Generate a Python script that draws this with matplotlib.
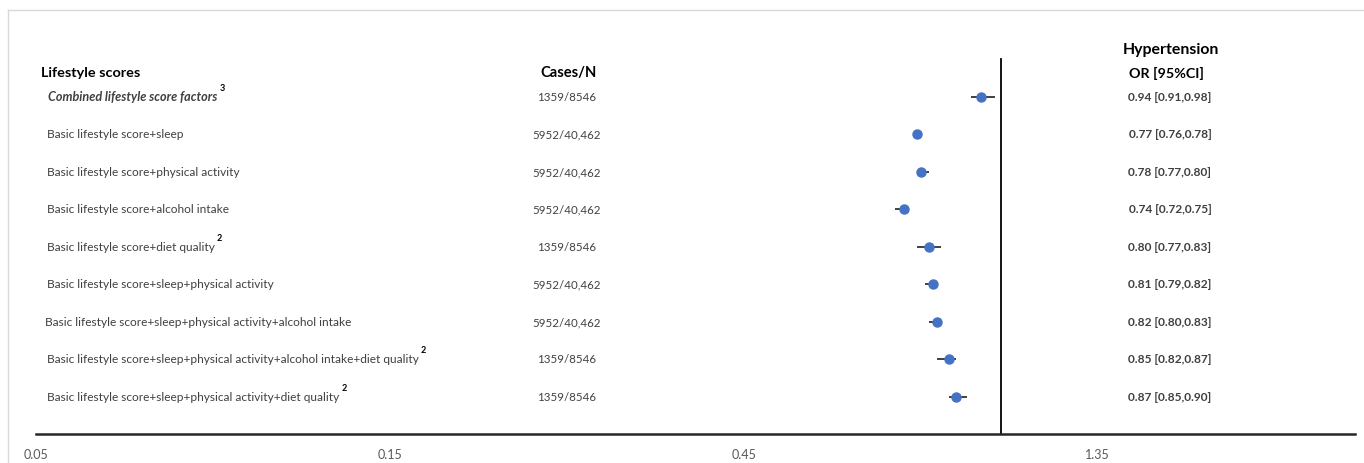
import numpy as np
import matplotlib.pyplot as plt
from matplotlib.lines import Line2D
from matplotlib.transforms import blended_transform_factory

# rows of the forest plot, top to bottom
labels = ['Combined lifestyle score factors',
          'Basic lifestyle score+sleep',
          'Basic lifestyle score+physical activity',
          'Basic lifestyle score+alcohol intake',
          'Basic lifestyle score+diet quality',
          'Basic lifestyle score+sleep+physical activity',
          'Basic lifestyle score+sleep+physical activity+alcohol intake',
          'Basic lifestyle score+sleep+physical activity+alcohol intake+diet quality',
          'Basic lifestyle score+sleep+physical activity+diet quality']
sups = ['3', '', '', '', '2', '', '', '2', '2']
cases = ['1359/8546', '5952/40,462', '5952/40,462', '5952/40,462', '1359/8546',
         '5952/40,462', '5952/40,462', '1359/8546', '1359/8546']
odds = [0.94, 0.77, 0.78, 0.74, 0.80, 0.81, 0.82, 0.85, 0.87]
lower = [0.91, 0.76, 0.77, 0.72, 0.77, 0.79, 0.80, 0.82, 0.85]
upper = [0.98, 0.78, 0.80, 0.75, 0.83, 0.82, 0.83, 0.87, 0.90]
xticks = [0.05, 0.15, 0.45, 1.35]

W, H = 1364, 464
font = ['Lato', 'DejaVu Sans']
txt = '#404040'

fig = plt.figure(figsize=(W / 100, H / 100), dpi=100)
ax = fig.add_axes([36 / W, (H - 435) / H, (1355 - 36) / W, 435 / H])

rows = np.arange(len(labels))
odds = np.array(odds)
err = [odds - np.array(lower), np.array(upper) - odds]
ax.errorbar(odds, rows, xerr=err, fmt='o', color='#4472C4', ms=6.5,
            ecolor='#404040', elinewidth=1.4, capsize=0, zorder=3)
ax.plot([1, 1], [-1, len(labels)], color='black', lw=1.3, zorder=2)

ax.set_xscale('log', base=3)
ax.set_xlim(0.05, 3.0)
ax.set_ylim(len(labels), -2.6)
ax.set_xticks(xticks)
ax.set_xticklabels([str(t) for t in xticks], family=font, fontsize=9, color='#595959')
ax.minorticks_off()
ax.tick_params(axis='x', length=0, pad=10)
ax.set_yticks([])
for s in ['top', 'right', 'left']:
    ax.spines[s].set_visible(False)
ax.spines['bottom'].set_linewidth(1.8)
ax.spines['bottom'].set_color('#262626')

tr = blended_transform_factory(fig.transFigure, ax.transData)

# column headers
ax.text(41 / W, -0.64, 'Lifestyle scores', transform=tr, family=font, fontsize=10.4,
        fontweight='bold', va='center', ha='left')
ax.text(569 / W, -0.64, 'Cases/N', transform=tr, family=font, fontsize=10.6,
        fontweight='bold', va='center', ha='center')
ax.text(1171 / W, -1.27, 'Hypertension', transform=tr, family=font, fontsize=11.4,
        fontweight='bold', va='center', ha='center')
ax.text(1166 / W, -0.64, 'OR [95%CI]', transform=tr, family=font, fontsize=10.3,
        fontweight='bold', va='center', ha='center')

fig.canvas.draw()
r = fig.canvas.get_renderer()
for i, lab in enumerate(labels):
    x0 = 47 / W if i else 48 / W
    if i == 6:
        x0 = 45 / W
    t = ax.text(x0, i, lab, transform=tr, family=font, color=txt, va='center', ha='left',
                fontsize=9.1 if i == 0 else 8.6,
                fontweight='bold' if i == 0 else 'normal',
                fontstyle='italic' if i == 0 else 'normal')
    if sups[i]:
        bb = t.get_window_extent(r)
        ax.text((bb.x1 + 2) / W, i - 0.24, sups[i], transform=tr, family=font, fontsize=6.5,
                color='black', fontweight='bold', va='center', ha='left')
    ax.text(567 / W, i, cases[i], transform=tr, family=font, fontsize=8.3, color=txt,
            va='center', ha='center')
    ax.text(1170 / W, i, '%.2f [%.2f,%.2f]' % (odds[i], lower[i], upper[i]), transform=tr,
            family=font, fontsize=8.6, color=txt, fontweight='bold', va='center', ha='center')

# light frame round the chart area
fig.add_artist(Line2D([8 / W, 1], [1 - 11 / H] * 2, transform=fig.transFigure,
                      color='#d9d9d9', lw=1))
fig.add_artist(Line2D([8 / W] * 2, [0, 1 - 11 / H], transform=fig.transFigure,
                      color='#d9d9d9', lw=1))

fig.savefig('out.png', dpi=100)
